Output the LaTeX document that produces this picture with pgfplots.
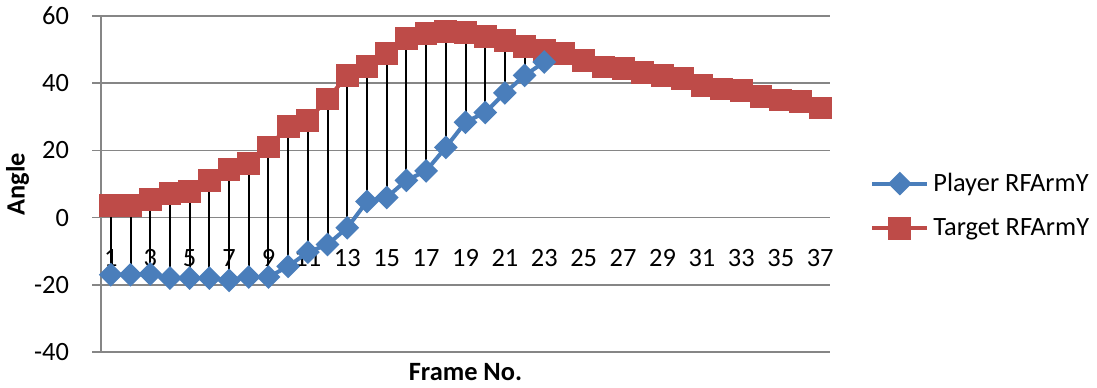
\documentclass[border=0pt]{standalone}
\usepackage{fontspec}
\setmainfont{Carlito}
\usepackage{pgfplots}
\pgfplotsset{compat=1.18}
\definecolor{xblue}{HTML}{4A7EBB}
\definecolor{xred}{HTML}{BE4B48}
\definecolor{xgrid}{HTML}{868686}
\begin{document}
\begin{tikzpicture}
\path[use as bounding box] (0,0) rectangle (548.5pt,193.5pt);
\begin{axis}[
 at={(50.5pt,17.5pt)}, anchor=south west,
 scale only axis, width=364.5pt, height=168pt,
 xmin=0.5, xmax=37.5, ymin=-40, ymax=60,
 axis x line=middle, axis y line=left,
 axis line style={-, xgrid, line width=0.75pt},
 hide obscured x ticks=false, hide obscured y ticks=false,
 xtick={1,3,...,37}, ytick={-40,-20,...,60},
 ymajorgrids, grid style={xgrid, line width=0.75pt},
 major x tick style={draw=none},
 major y tick style={xgrid, line width=0.75pt},
 tick align=outside, major tick length=4.5pt,
 /pgf/number format/assume math mode=true,
 tick label style={font=\fontsize{13.2}{15}\selectfont},
 yticklabel style={anchor=east, xshift=-8pt},
 xticklabel style={anchor=north, yshift=-8pt},
 xlabel={Frame No.},
 xlabel style={at={(axis description cs:0.5,-0.061)}, anchor=center, font=\bfseries\fontsize{13.2}{15}\selectfont},
 ylabel={Angle},
 ylabel style={at={(axis description cs:-0.1145,0.5)}, anchor=center, font=\bfseries\fontsize{13.2}{15}\selectfont},
 unbounded coords=jump,
 reverse legend,
 legend style={at={(1.0466,0.436)}, anchor=west, draw=none, fill=none,
   font=\fontsize{13.2}{15}\selectfont, row sep=8pt, cells={anchor=west}},
 legend image code/.code={\draw[mark repeat=2,mark phase=2] plot coordinates {(0pt,0pt)(13.75pt,0pt)(27.5pt,0pt)};},
]
\addplot[xred, line width=2pt, mark=square*, mark size=4.7pt, mark options={solid, fill=xred, draw=xred}] coordinates {
(1,3.5)(2,3.7)(3,5.5)(4,7.2)(5,7.8)(6,11)(7,14.4)(8,16)(9,21)(10,27)
(11,29)(12,35.3)(13,42.3)(14,45)(15,48.8)(16,53.2)(17,54.7)(18,55.5)(19,55)(20,54)
(21,52.7)(22,51)(23,49.7)(24,48.8)(25,46.8)(26,44.8)(27,44.3)(28,43.1)(29,42.3)(30,41.3)
(31,39.3)(32,38.3)(33,37.8)(34,36.1)(35,35)(36,34.5)(37,32.6)};
\addlegendentry{Target RFArmY}
\addplot[xblue, line width=2pt, mark=square*, mark size=3.2pt, mark options={solid, rotate=45, fill=xblue, draw=xblue}] coordinates {
(1,-17)(2,-17)(3,-16.8)(4,-18)(5,-18)(6,-18)(7,-18.7)(8,-17.7)(9,-17.7)(10,-14.5)
(11,-10.3)(12,-8)(13,-3)(14,4.8)(15,6)(16,11.1)(17,13.9)(18,20.9)(19,28.4)(20,31.3)
(21,37.1)(22,42.3)(23,46.3)};
\addlegendentry{Player RFArmY}
\addplot[black, line width=1pt, forget plot] coordinates {
(1,-17)(1,3.5)(1,inf)(2,-17)(2,3.7)(2,inf)(3,-16.8)(3,5.5)(3,inf)
(4,-18)(4,7.2)(4,inf)(5,-18)(5,7.8)(5,inf)(6,-18)(6,11)(6,inf)
(7,-18.7)(7,14.4)(7,inf)(8,-17.7)(8,16)(8,inf)(9,-17.7)(9,21)(9,inf)
(10,-14.5)(10,27)(10,inf)(11,-10.3)(11,29)(11,inf)(12,-8)(12,35.3)(12,inf)
(13,-3)(13,42.3)(13,inf)(14,4.8)(14,45)(14,inf)(15,6)(15,48.8)(15,inf)
(16,11.1)(16,53.2)(16,inf)(17,13.9)(17,54.7)(17,inf)(18,20.9)(18,55.5)(18,inf)
(19,28.4)(19,55)(19,inf)(20,31.3)(20,54)(20,inf)(21,37.1)(21,52.7)(21,inf)
(22,42.3)(22,51)(22,inf)(23,46.3)(23,49.7)};
\end{axis}
\end{tikzpicture}
\end{document}
